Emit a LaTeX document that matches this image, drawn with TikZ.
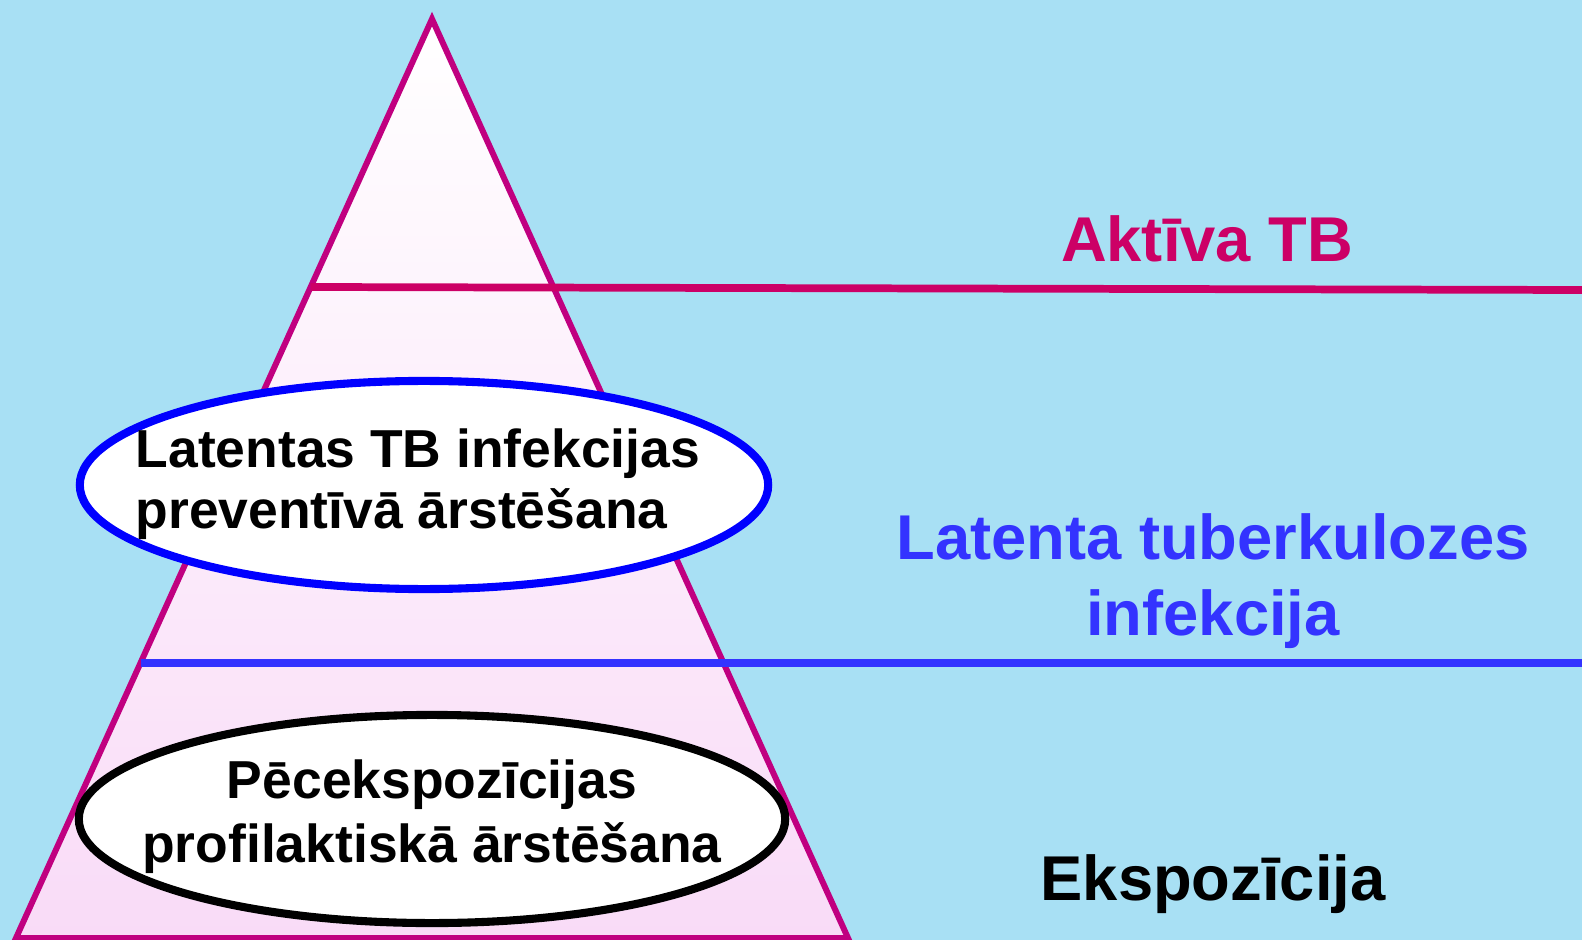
\documentclass[tikz,border=0pt]{standalone}
\usepackage{fontspec}
\setmainfont{Liberation Sans}
\usetikzlibrary{shapes.geometric,positioning}

\definecolor{skyback}{HTML}{A8E0F4}
\definecolor{pyrline}{HTML}{C00080}
\definecolor{activetb}{HTML}{CC0066}
\definecolor{latenttb}{HTML}{3333FF}
\definecolor{pyrpink}{HTML}{F9DBF7}

\begin{document}
\begin{tikzpicture}[
    x=0.01cm, y=-0.01cm,
    level/.style={font=\fontsize{18}{21.6}\selectfont\bfseries, inner sep=0pt, anchor=base},
    inside/.style={font=\fontsize{15.2}{18}\selectfont\bfseries, inner sep=0pt, anchor=base},
    oval/.style={ellipse, draw, line width=2.3pt, fill=white, inner sep=0pt, minimum height=2.08cm},
    divider/.style={line width=2.2pt}
]

% === Background ===
\useasboundingbox (0,0) rectangle (1582,940);
\fill[skyback] (0,0) rectangle (1582,940);

% === Pyramid ===
\coordinate (apex) at (432,19);
\coordinate (bl) at (16,938);
\coordinate (br) at (848,938);
\shade[top color=white, bottom color=pyrpink] (apex) -- (bl) -- (br) -- cycle;
\draw[pyrline, line width=1.7pt] (apex) -- (bl) -- (br) -- cycle;

% Level dividers
\coordinate (akt-l) at (310.7,287);
\coordinate (akt-r) at (1582,290);
\draw[divider, activetb] (akt-l) -- (akt-r);

\coordinate (ltb-l) at (140.5,663);
\coordinate (ltb-r) at (1582,663);
\draw[divider, latenttb] (ltb-l) -- (ltb-r);

% === Treatment ovals ===
\node[oval, draw=blue, minimum width=6.88cm] (lbi) at (424,485) {};
\node[inside, anchor=base west] (lbi1) at (135,467) {Latentas TB infekcijas};
\node[inside, anchor=base west] (lbi2) at (135,528) {preventīvā ārstēšana};

\node[oval, draw=black, minimum width=7.06cm] (pep) at (432,819) {};
\node[inside] (pep1) at (432,798) {Pēcekspozīcijas};
\node[inside] (pep2) at (432,862) {profilaktiskā ārstēšana};

% === Level labels ===
\node[level, text=activetb] (akt) at (1207,262) {Aktīva TB};
\node[level, text=latenttb] (ltb1) at (1213,559) {Latenta tuberkulozes};
\node[level, text=latenttb] (ltb2) at (1213,635) {infekcija};
\node[level] (eks) at (1213,900) {Ekspozīcija};

\end{tikzpicture}
\end{document}
